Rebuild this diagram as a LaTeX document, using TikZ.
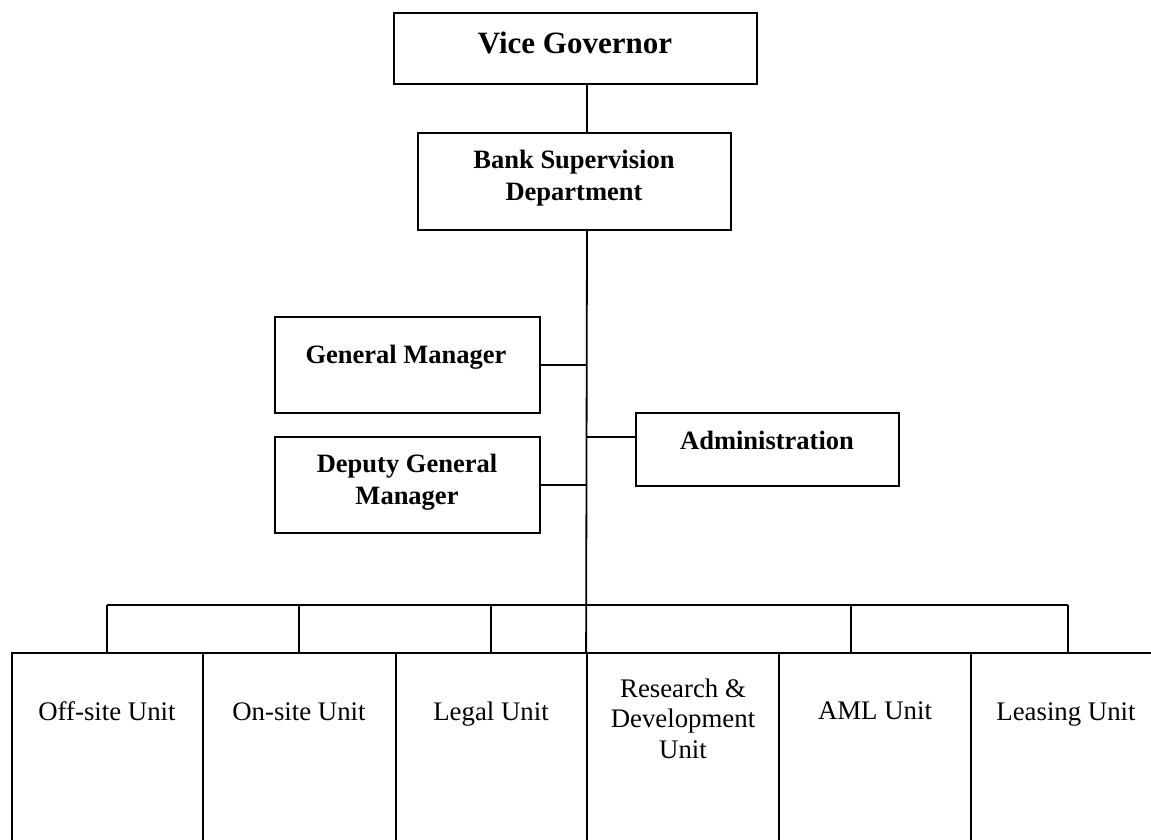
\documentclass[tikz,border=0pt]{standalone}
\usepackage{fontspec}
\setmainfont{Liberation Serif}
\begin{document}
\begin{tikzpicture}[x=1pt,y=-1pt,line width=1.8pt,
  box/.style={draw=black,rectangle,inner sep=0pt},
  bt/.style={font=\bfseries\fontsize{26.5}{32}\selectfont,align=center,inner sep=0pt,anchor=base},
  vt/.style={font=\bfseries\fontsize{31}{36}\selectfont,align=center,inner sep=0pt,anchor=base},
  rt/.style={font=\fontsize{26.8}{30.5}\selectfont,align=center,inner sep=0pt,anchor=base}]
\useasboundingbox (0,0) rectangle (1151,839);
\clip (0,0) rectangle (1151,839);
% boxes
\node[box,minimum width=363pt,minimum height=71pt] (vg) at (575.5,48.5) {};
\node[box,minimum width=313pt,minimum height=97pt] (bsd) at (574.5,181.5) {};
\node[box,minimum width=265pt,minimum height=96pt] (gm) at (407.5,365) {};
\node[box,minimum width=265pt,minimum height=96pt] (dgm) at (407.5,485) {};
\node[box,minimum width=263pt,minimum height=73pt] (adm) at (767.5,449.5) {};
\node[box,minimum width=191pt,minimum height=197pt] (off) at (107.5,751.5) {};
\node[box,minimum width=193pt,minimum height=197pt] (on) at (299.5,751.5) {};
\node[box,minimum width=191pt,minimum height=197pt] (legal) at (491.5,751.5) {};
\node[box,minimum width=192pt,minimum height=197pt] (rd) at (683,751.5) {};
\node[box,minimum width=192pt,minimum height=197pt] (aml) at (875,751.5) {};
\node[box,minimum width=194pt,minimum height=197pt] (lease) at (1068,751.5) {};
% texts (base anchor = baseline of last line)
\node[vt] (tvg) at (575,53) {Vice Governor};
\node[bt] (tbsd) at (574,200) {Bank Supervision\\Department};
\node[bt] (tgm) at (406,363) {General Manager};
\node[bt] (tdgm) at (407,504) {Deputy General\\Manager};
\node[bt] (tadm) at (767,449) {Administration};
\node[rt] (toff) at (107,720) {Off-site Unit};
\node[rt] (ton) at (299,720) {On-site Unit};
\node[rt] (tlegal) at (491,720) {Legal Unit};
\node[rt] (trd) at (683,758) {Research \&\\Development\\Unit};
\node[rt] (taml) at (875,719) {AML Unit};
\node[rt] (tlease) at (1066,720) {Leasing Unit};
% junction coordinates
\coordinate (t) at (587,605);
\coordinate (ja) at (587,437);
\coordinate (d1) at (107,605);
\coordinate (d2) at (299,605);
\coordinate (d3) at (491,605);
\coordinate (d5) at (851,605);
\coordinate (d6) at (1068,605);
% connectors
\draw (vg.south -| t) -- (bsd.north -| t);
\draw (bsd.south -| t) -- (rd.north west);
\draw (gm.east) -- (gm.east -| t);
\draw (dgm.east) -- (dgm.east -| t);
\draw (ja) -- (ja -| adm.west);
\draw (d1) -- (d6);
\draw (d1) -- (d1 |- off.north);
\draw (d2) -- (d2 |- on.north);
\draw (d3) -- (d3 |- legal.north);
\draw (d5) -- (d5 |- aml.north);
\draw (d6) -- (d6 |- lease.north);
\end{tikzpicture}
\end{document}
